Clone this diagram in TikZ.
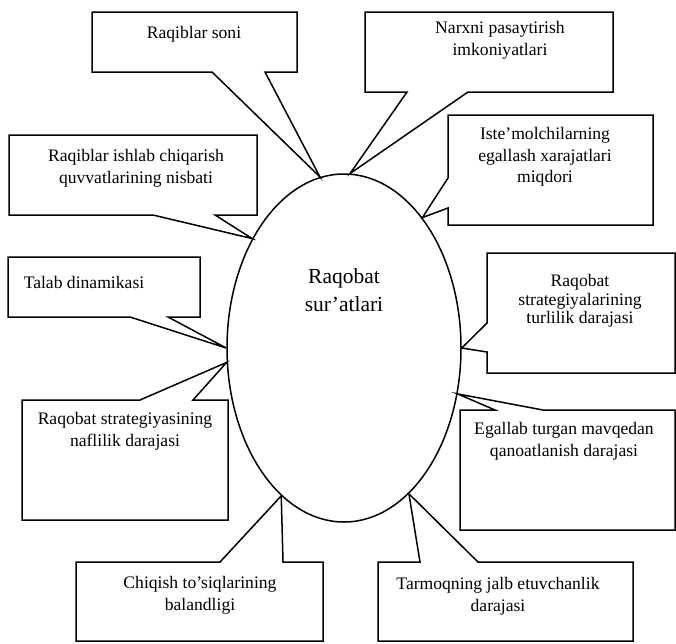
\documentclass[tikz,border=0pt]{standalone}
\usepackage{fontspec}
\setmainfont{Liberation Serif}
\usetikzlibrary{shapes.geometric}
% callout box: [style]{left}{top}{right}{bottom}{tail a}{tail b}{tip}
\newcommand{\calloutS}[8][]{%
\draw[line join=miter,#1] (#2,#3) -- (#4,#3) -- (#4,#5) -- (#7,#5) -- (#8) -- (#6,#5) -- (#2,#5) -- cycle;
}
\newcommand{\calloutN}[8][]{%
\draw[line join=miter,#1] (#2,#5) -- (#2,#3) -- (#6,#3) -- (#8) -- (#7,#3) -- (#4,#3) -- (#4,#5) -- cycle;
}
\newcommand{\calloutW}[8][]{%
\draw[line join=miter,#1] (#2,#3) -- (#4,#3) -- (#4,#5) -- (#2,#5) -- (#2,#7) -- (#8) -- (#2,#6) -- cycle;
}

\begin{document}
\begin{tikzpicture}[x=1pt,y=-1pt,line width=1.5pt]
\useasboundingbox (0,0) rectangle (676,643);

\tikzstyle{boxtext}=[anchor=north,align=center,inner sep=0pt,font=\fontsize{17.6}{21.5}\selectfont]

% centre
\node[draw,ellipse,minimum width=234,minimum height=348,inner sep=0pt] (rs) at (344,348) {};
\node[anchor=north,align=center,inner sep=0pt,font=\fontsize{21.5}{28}\selectfont] (rstitle) at (344,268) {Raqobat\\sur'atlari};

% top row
\calloutS{92}{12}{297}{72}{212}{265}{rs.98}
\node[boxtext] (soni) at (194,26) {Raqiblar soni};

\calloutS{365}{12}{613}{92}{407}{468}{rs.88}
\node[boxtext] (narx) at (500,21) {Narxni pasaytirish\\imkoniyatlari};

% left side
\calloutS{9}{135}{257}{215}{153}{215}{rs.130}
\node[boxtext] (quvvat) at (136,149) {Raqiblar ishlab chiqarish\\quvvatlarining nisbati};

\calloutS{8}{257}{200}{317}{130}{168}{rs.180}
\node[boxtext,anchor=north west] (talab) at (23,276) {Talab dinamikasi};

\calloutN{22}{400}{228}{520}{140}{193}{rs.187}
\node[boxtext] (nafli) at (125,412) {Raqobat strategiyasining\\naflilik darajasi};

% right side
\calloutW{448}{115}{653}{225}{178}{208}{rs.59}
\node[boxtext] (xarajat) at (545,127) {Iste'molchilarning\\egallash xarajatlari\\miqdori};

\calloutW{487}{253}{675}{373}{323}{352}{rs.0}
\node[boxtext,font=\fontsize{17.6}{18.5}\selectfont] (turli) at (580,274) {Raqobat\\strategiyalarining\\turlilik darajasi};

\calloutN{460}{410}{675}{530}{495}{543}{rs.338}
\node[boxtext] (mavqe) at (564,422) {Egallab turgan mavqedan\\qanoatlanish darajasi};

% bottom row
\calloutN{76}{562}{323}{641}{220}{283}{rs.247}
\node[boxtext] (chiqish) at (200,576) {Chiqish to'siqlarining\\balandligi};

\calloutN{378}{562}{633}{641}{420}{478}{rs.294}
\node[boxtext] (jalb) at (498,577) {Tarmoqning jalb etuvchanlik\\darajasi};

\end{tikzpicture}
\end{document}
